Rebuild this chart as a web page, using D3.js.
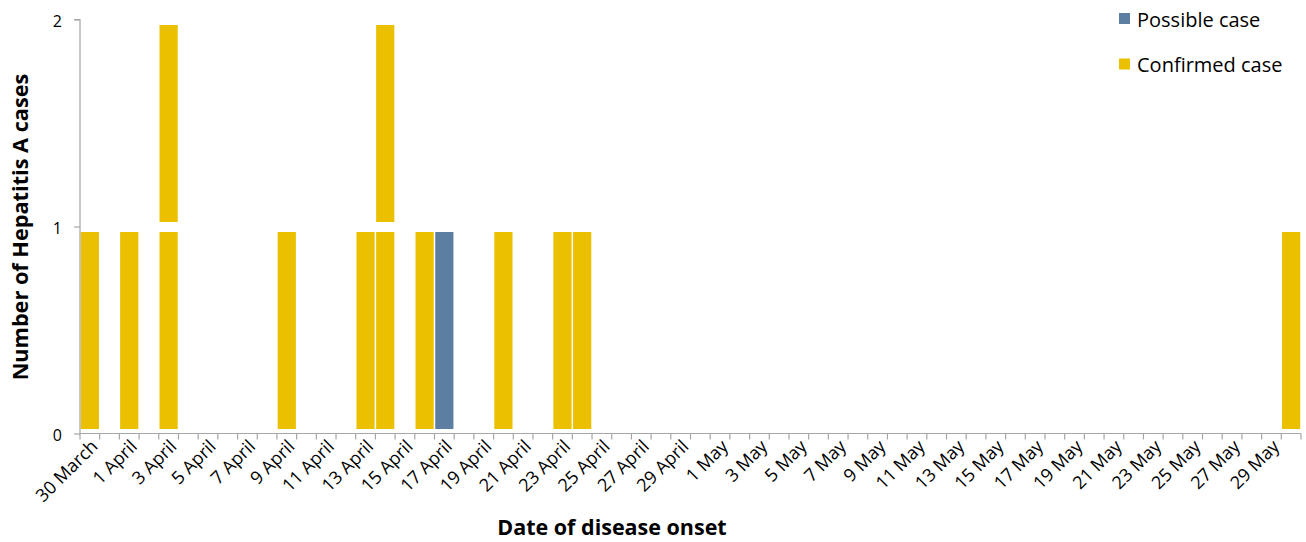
<!DOCTYPE html>
<html>
<head>
<meta charset="utf-8">
<script src="https://cdn.jsdelivr.net/npm/d3@7"></script>
<style>
  html, body { margin: 0; padding: 0; background: #fff; }
  svg { display: block; }
  text { font-family: "Open Sans", sans-serif; fill: #000; }
</style>
</head>
<body>
<svg id="chart" width="1306" height="542"></svg>
<script>
// ---- data ----
const categories = [
  "30 March","31 March",
  "1 April","2 April","3 April","4 April","5 April","6 April","7 April","8 April","9 April","10 April",
  "11 April","12 April","13 April","14 April","15 April","16 April","17 April","18 April","19 April","20 April",
  "21 April","22 April","23 April","24 April","25 April","26 April","27 April","28 April","29 April","30 April",
  "1 May","2 May","3 May","4 May","5 May","6 May","7 May","8 May","9 May","10 May",
  "11 May","12 May","13 May","14 May","15 May","16 May","17 May","18 May","19 May","20 May",
  "21 May","22 May","23 May","24 May","25 May","26 May","27 May","28 May","29 May","30 May"
];
// confirmed cases per day (same order as categories)
const confirmedCases = [
  1,0, 1,0,2,0,0,0,0,0,1,0, 0,0,1,2,0,1,0,0,0,1, 0,0,1,1,0,0,0,0,0,0,
  0,0,0,0,0,0,0,0,0,0, 0,0,0,0,0,0,0,0,0,0, 0,0,0,0,0,0,0,0,0,1
];
// possible cases per day
const possibleCases = [
  0,0, 0,0,0,0,0,0,0,0,0,0, 0,0,0,0,0,0,1,0,0,0, 0,0,0,0,0,0,0,0,0,0,
  0,0,0,0,0,0,0,0,0,0, 0,0,0,0,0,0,0,0,0,0, 0,0,0,0,0,0,0,0,0,0
];
const tickLabels = [
  "30 March","1 April","3 April","5 April","7 April","9 April","11 April","13 April","15 April",
  "17 April","19 April","21 April","23 April","25 April","27 April","29 April","1 May","3 May",
  "5 May","7 May","9 May","11 May","13 May","15 May","17 May","19 May","21 May","23 May",
  "25 May","27 May","29 May"
];
const yTicks = [0, 1, 2];
const seriesNames = ["Confirmed case", "Possible case"];
const legendOrder = ["Possible case", "Confirmed case"];
const colors = { "Confirmed case": "#EAC000", "Possible case": "#5C7FA1" };

// ---- layout ----
const svg = d3.select("#chart");
const plotLeft = 80, plotRight = 1301, plotTop = 19.5, plotBottom = 433.5;

const x = d3.scaleBand().domain(categories).range([plotLeft, plotRight]).padding(0);
const y = d3.scaleLinear().domain([0, 2]).range([plotBottom, plotTop]);

// build cells: one rect per case, stacked confirmed then possible
const table = categories.map((c, i) => ({ date: c, "Confirmed case": confirmedCases[i], "Possible case": possibleCases[i] }));
const stacked = d3.stack().keys(seriesNames)(table);
const cells = [];
stacked.forEach(layer => {
  layer.forEach((seg, i) => {
    for (let v = seg[0]; v < seg[1]; v++) {
      cells.push({ date: categories[i], key: layer.key, y0: v, y1: v + 1 });
    }
  });
});

svg.append("g").selectAll("rect").data(cells).join("rect")
  .attr("x", d => x(d.date) + 0.75)
  .attr("width", x.bandwidth() - 1.5)
  .attr("y", d => y(d.y1) + 5.5)
  .attr("height", d => y(d.y0) - y(d.y1) - 10)
  .attr("fill", d => colors[d.key]);

// ---- axes ----
const axisColor = "#A6A6A6";
// y axis
const gy = svg.append("g").attr("transform", `translate(${plotLeft},0)`)
  .call(d3.axisLeft(y).tickValues(yTicks).tickFormat(d3.format("d")).tickSize(6).tickPadding(12));
gy.select(".domain").attr("stroke", axisColor).attr("stroke-width", 1.2).attr("d", `M-6,${y(2)}H0V${y(0)}`);
gy.selectAll(".tick line").attr("stroke", axisColor).attr("stroke-width", 1.2);
gy.selectAll(".tick text").attr("font-size", 16).attr("font-family", "Open Sans").attr("fill", "#000").attr("dy", "0.42em");

// x axis: baseline + tick marks at category boundaries
const gx = svg.append("g").attr("transform", `translate(0,${plotBottom})`);
gx.append("line").attr("x1", plotLeft).attr("x2", plotRight).attr("y1", 0).attr("y2", 0)
  .attr("stroke", axisColor).attr("stroke-width", 1.2);
const boundaries = categories.map(c => x(c)).concat([x(categories[categories.length - 1]) + x.bandwidth()]);
gx.selectAll("line.tk").data(boundaries).join("line").attr("class", "tk")
  .attr("x1", d => d).attr("x2", d => d).attr("y1", 0).attr("y2", 6)
  .attr("stroke", axisColor).attr("stroke-width", 1.2);
gx.selectAll("text.lbl").data(tickLabels).join("text").attr("class", "lbl")
  .attr("transform", d => `translate(${x(d) + x.bandwidth() / 2 + 9},${14}) rotate(-45)`)
  .attr("text-anchor", "end")
  .attr("font-size", 18)
  .text(d => d);

// axis titles
svg.append("text")
  .attr("x", 612).attr("y", 535)
  .attr("text-anchor", "middle").attr("font-size", 21.5).attr("font-weight", "bold")
  .text("Date of disease onset");
svg.append("text")
  .attr("transform", `translate(28,227) rotate(-90)`)
  .attr("text-anchor", "middle").attr("font-size", 21.7).attr("font-weight", "bold")
  .text("Number of Hepatitis A cases");

// legend
const lg = svg.append("g");
legendOrder.forEach((name, i) => {
  const yy = 13 + i * 45.5;
  lg.append("rect").attr("x", 1119).attr("y", yy).attr("width", 11).attr("height", 11).attr("fill", colors[name]);
  lg.append("text").attr("x", 1137).attr("y", yy + 13.5).attr("font-size", 20).text(name);
});
</script>
</body>
</html>
